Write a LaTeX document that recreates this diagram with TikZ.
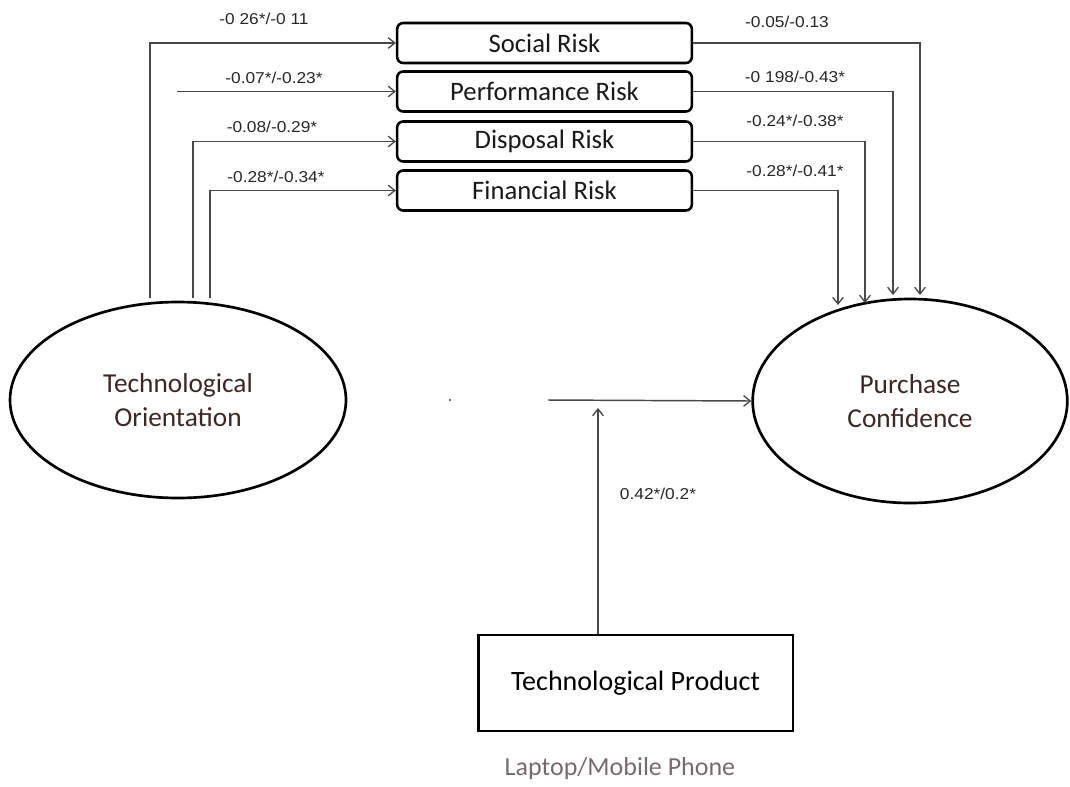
\documentclass[tikz,border=0pt]{standalone}
\usepackage{graphicx}
\usepackage{fontspec}
\setmainfont{Carlito}
\newfontfamily\arialf{Liberation Sans}
\usetikzlibrary{arrows.meta,shapes.geometric}
\definecolor{linegray}{HTML}{484848}
\definecolor{ovaltext}{HTML}{3D2626}
\definecolor{subtext}{HTML}{776A6A}
\newcommand{\wlab}[1]{\scalebox{1.1}[1]{#1}}
\begin{document}
\begin{tikzpicture}[x=0.75pt,y=-0.75pt,
  riskbox/.style={draw=black, line width=1.9pt, rounded corners=4.5pt, minimum width=221pt, minimum height=30pt, inner sep=0pt, font=\fontsize{20}{24}\selectfont, text=black!90},
  oval/.style={ellipse, draw=black, line width=2pt, inner sep=0pt, align=center, font=\fontsize{20.5}{25}\selectfont, text=ovaltext},
  conn/.style={draw=linegray, line width=1.1pt, -{Straight Barb[length=5pt,width=8pt,line width=1pt]}},
  lab/.style={font=\arialf\fontsize{11.8}{13}\selectfont, text=black!85, inner sep=0pt}
]
\useasboundingbox (0,0) rectangle (1070,786);

% risk boxes
\node[riskbox] (social) at (544.5,43)  {Social Risk};
\node[riskbox] (perf)   at (544.5,91.5) {Performance Risk};
\node[riskbox] (disp)   at (544.5,141.5) {Disposal Risk};
\node[riskbox] (fin)    at (544.5,190.5) {Financial Risk};

% ellipses
\node[oval, minimum width=252pt, minimum height=147pt] (to) at (178,400) {Technological\\Orientation};
\node[oval, minimum width=236pt, minimum height=153pt] (pc) at (910,401) {Purchase\\Confidence};

% product box
\node[draw=black, line width=2pt, minimum width=236pt, minimum height=72pt, inner sep=0pt, font=\fontsize{21}{25}\selectfont] (prod) at (635.5,683) {Technological Product};
\node[anchor=base, font=\fontsize{19.5}{23}\selectfont, text=subtext] (lap) at (620,775) {Laptop/Mobile Phone};

% connector end coordinates
\coordinate (ts) at (150,298);
\coordinate (tp) at (177,91.5);
\coordinate (td) at (193,298);
\coordinate (tf) at (210,298);
\coordinate (es) at (920,295);
\coordinate (ep) at (893,295);
\coordinate (ed) at (865,303);
\coordinate (ef) at (838,305);
\coordinate (mid) at (548,400);
\coordinate (pt) at (598,408);

% left connectors
\draw[conn] (ts) |- (social.west);
\draw[conn] (tp) -- (perf.west);
\draw[conn] (td) |- (disp.west);
\draw[conn] (tf) |- (fin.west);

% right connectors
\draw[conn] (social.east) -| (es);
\draw[conn] (perf.east) -| (ep);
\draw[conn] (disp.east) -| (ed);
\draw[conn] (fin.east) -| (ef);

% middle and product
\draw[conn] (mid) -- (pc.west);
\draw[conn] (prod.north -| pt) -- (pt);
\fill[linegray] (450,400) circle (0.8pt);

% labels
\node[lab] (l1) at (264,19)  {\wlab{-0 26*/-0 11}};
\node[lab] (l2) at (274,78)  {\wlab{-0.07*/-0.23*}};
\node[lab] (l3) at (272,127) {\wlab{-0.08/-0.29*}};
\node[lab] (l4) at (276,177) {\wlab{-0.28*/-0.34*}};
\node[lab] (r1) at (787,22)  {\wlab{-0.05/-0.13}};
\node[lab] (r2) at (795,77)  {\wlab{-0 198/-0.43*}};
\node[lab] (r3) at (795,121) {\wlab{-0.24*/-0.38*}};
\node[lab] (r4) at (795,171) {\wlab{-0.28*/-0.41*}};
\node[lab] (pl) at (658,494) {\wlab{0.42*/0.2*}};
\end{tikzpicture}
\end{document}
